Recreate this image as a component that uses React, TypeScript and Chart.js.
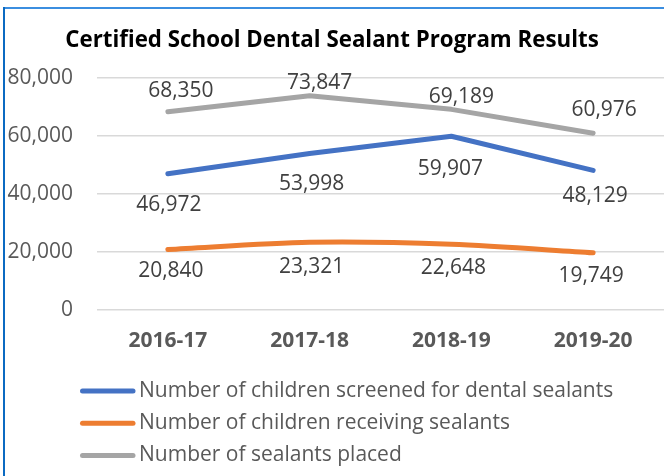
import React, { useEffect, useRef } from "react";
import { Chart, registerables } from "chart.js";

Chart.register(...registerables);

const categories = ["2016-17", "2017-18", "2018-19", "2019-20"];
const screened = [46972, 53998, 59907, 48129];
const receiving = [20840, 23321, 22648, 19749];
const placed = [68350, 73847, 69189, 60976];
const seriesNames = [
  "Number of children screened for dental sealants",
  "Number of children receiving sealants",
  "Number of sealants placed",
];
const chartTitle = "Certified School Dental Sealant Program Results";
const yMin = 0;
const yMax = 80000;
const yStep = 20000;

const FONT = "'Open Sans', 'Noto Sans', sans-serif";

// label offsets relative to each point (dx, dy of label centre)
const labelOffsets = [
  { dx: [1, 2, -1, 2], dy: [30, 29.5, 31.5, 24.5] },
  { dx: [3, 2, 2, -2], dy: [20, 23, 22.5, 22] },
  { dx: [13, 10, 10, 11], dy: [-22, -14, -14, -24.5] },
];

const fmt = (v: number) => v.toLocaleString("en-US");

const drawPlugin = {
  id: "customDraw",
  beforeDraw(chart: any) {
    const { ctx } = chart;
    ctx.save();
    ctx.fillStyle = "#ffffff";
    ctx.fillRect(0, 0, chart.width, chart.height);
    // frame
    ctx.fillStyle = "#3b8ee0";
    ctx.fillRect(3, 7, chart.width - 3, 2);
    ctx.fillStyle = "#0b6ac2";
    ctx.fillRect(3, 7, 2, chart.height - 7);
    ctx.restore();
  },
  afterDraw(chart: any) {
    const { ctx } = chart;
    ctx.save();
    // title
    ctx.font = `bold 22.3px ${FONT}`;
    ctx.fillStyle = "#000000";
    ctx.textAlign = "center";
    ctx.textBaseline = "alphabetic";
    ctx.fillText(chartTitle, 332, 47);

    // data labels
    ctx.font = `21px ${FONT}`;
    ctx.fillStyle = "#404040";
    chart.data.datasets.forEach((ds: any, i: number) => {
      const meta = chart.getDatasetMeta(i);
      const off = labelOffsets[i];
      meta.data.forEach((pt: any, j: number) => {
        const cx = pt.x + off.dx[j];
        const cy = pt.y + off.dy[j];
        ctx.textAlign = "center";
        ctx.textBaseline = "alphabetic";
        ctx.fillText(fmt(ds.data[j]), cx, cy + 7.5);
      });
    });

    // legend
    chart.data.datasets.forEach((ds: any, i: number) => {
      const y = 391 + i * 32.2;
      ctx.strokeStyle = ds.borderColor;
      ctx.lineWidth = 5;
      ctx.lineCap = "round";
      ctx.beginPath();
      ctx.moveTo(82.5, y);
      ctx.lineTo(133, y);
      ctx.stroke();
      ctx.font = `21px ${FONT}`;
      ctx.fillStyle = "#595959";
      ctx.textAlign = "left";
      ctx.textBaseline = "middle";
      ctx.fillText(ds.label, 139, y);
    });
    ctx.restore();
  },
};

export default function App() {
  const ref = useRef<HTMLCanvasElement>(null);
  useEffect(() => {
    if (!ref.current) return;
    const chart = new Chart(ref.current, {
      type: "line",
      data: {
        labels: categories,
        datasets: [
          { label: seriesNames[0], data: screened, borderColor: "#4472C4", backgroundColor: "#4472C4", tension: 0 },
          { label: seriesNames[1], data: receiving, borderColor: "#ED7D31", backgroundColor: "#ED7D31", tension: 0.3 },
          { label: seriesNames[2], data: placed, borderColor: "#A5A5A5", backgroundColor: "#A5A5A5", tension: 0 },
        ].map((d) => ({
          ...d,
          borderWidth: 5,
          borderCapStyle: "round" as const,
          borderJoinStyle: "round" as const,
          pointRadius: 0,
          pointHoverRadius: 0,
          fill: false,
        })),
      },
      plugins: [drawPlugin],
      options: {
        animation: false,
        responsive: false,
        maintainAspectRatio: false,
        layout: { padding: { top: 78, left: 0, right: 0, bottom: 0 } },
        plugins: {
          legend: { display: false },
          title: { display: false },
          tooltip: { enabled: false },
        },
        scales: {
          x: {
            type: "category",
            offset: true,
            grid: { display: false, drawTicks: false },
            border: { display: false },
            ticks: {
              padding: 18,
              color: "#595959",
              font: { family: FONT, size: 21, weight: "bold" },
              maxRotation: 0,
            },
            afterFit: (s: any) => {
              s.height = 166;
            },
          },
          y: {
            min: yMin,
            max: yMax,
            grid: { color: "#d9d9d9", lineWidth: 1.5, drawTicks: false },
            border: { display: false },
            ticks: {
              stepSize: yStep,
              padding: 24,
              color: "#595959",
              font: { family: FONT, size: 21 },
              callback: (v: any) => fmt(Number(v)),
            },
            afterFit: (s: any) => {
              s.width = 97;
            },
          },
        },
      },
    });
    return () => chart.destroy();
  }, []);
  return (
    <div style={{ position: "fixed", left: 0, top: 0, width: 664, height: 476, background: "#fff" }}>
      <canvas ref={ref} width={664} height={476} style={{ width: 664, height: 476, display: "block" }} />
    </div>
  );
}
